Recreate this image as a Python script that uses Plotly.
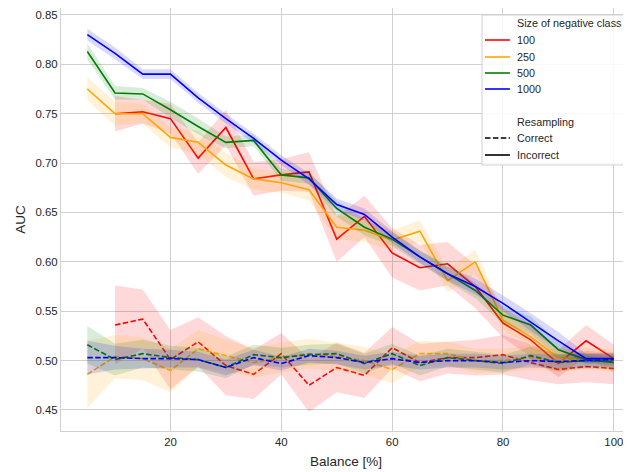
import plotly.graph_objects as go

BALANCE = [5, 10, 15, 20, 25, 30, 35, 40, 45, 50, 55, 60, 65, 70, 75, 80, 85, 90, 95, 100]
SIZES = ["100", "250", "500", "1000"]
COLORS = {"100": "#ff0000", "250": "#ffa500", "500": "#008000", "1000": "#0000ff"}
BAND_RGB = {"100": "255,0,0", "250": "255,165,0", "500": "0,128,0", "1000": "0,0,255"}

# Incorrect resampling (solid)
INC_100 = [None, 0.750, 0.752, 0.745, 0.705, 0.736, 0.684, 0.688, 0.691, 0.623, 0.646, 0.609, 0.594, 0.598, 0.575, 0.538, 0.521, 0.497, 0.520, 0.502]
INC_100_CI = [None, 0.018, 0.012, 0.015, 0.016, 0.018, 0.017, 0.016, 0.020, 0.023, 0.021, 0.025, 0.023, 0.022, 0.022, 0.015, 0.017, 0.014, 0.016, 0.014]
INC_250 = [0.775, 0.750, 0.750, 0.726, 0.721, 0.698, 0.684, 0.680, 0.673, 0.635, 0.632, 0.622, 0.631, 0.581, 0.600, 0.541, 0.524, 0.503, 0.502, 0.502]
INC_250_CI = [0.012, 0.012, 0.010, 0.010, 0.012, 0.012, 0.011, 0.010, 0.011, 0.012, 0.012, 0.010, 0.011, 0.012, 0.012, 0.010, 0.010, 0.006, 0.005, 0.004]
INC_500 = [0.813, 0.771, 0.770, 0.754, 0.737, 0.721, 0.723, 0.688, 0.685, 0.654, 0.635, 0.623, 0.605, 0.588, 0.571, 0.546, 0.536, 0.511, 0.501, 0.498]
INC_500_CI = [0.008, 0.007, 0.006, 0.008, 0.008, 0.006, 0.006, 0.006, 0.006, 0.008, 0.008, 0.007, 0.007, 0.008, 0.008, 0.009, 0.009, 0.007, 0.004, 0.003]
INC_1000 = [0.830, 0.811, 0.790, 0.790, 0.766, 0.745, 0.725, 0.703, 0.684, 0.658, 0.648, 0.625, 0.605, 0.588, 0.575, 0.558, 0.539, 0.520, 0.502, 0.502]
INC_1000_CI = [0.006, 0.006, 0.005, 0.005, 0.005, 0.005, 0.005, 0.005, 0.006, 0.006, 0.006, 0.006, 0.006, 0.007, 0.008, 0.008, 0.009, 0.009, 0.005, 0.003]

# Correct resampling (dashed)
COR_100 = [None, 0.536, 0.542, 0.501, 0.519, 0.495, 0.486, 0.507, 0.475, 0.493, 0.485, 0.513, 0.498, 0.503, 0.503, 0.506, 0.498, 0.491, 0.494, 0.492]
COR_100_CI = [None, 0.040, 0.030, 0.030, 0.025, 0.030, 0.025, 0.021, 0.027, 0.025, 0.023, 0.021, 0.019, 0.016, 0.018, 0.020, 0.018, 0.015, 0.016, 0.016]
COR_250 = [0.486, 0.504, 0.502, 0.490, 0.512, 0.505, 0.498, 0.503, 0.507, 0.504, 0.500, 0.491, 0.507, 0.507, 0.500, 0.500, 0.503, 0.500, 0.502, 0.500]
COR_250_CI = [0.034, 0.022, 0.022, 0.022, 0.019, 0.016, 0.015, 0.015, 0.015, 0.014, 0.014, 0.014, 0.013, 0.012, 0.012, 0.012, 0.012, 0.011, 0.011, 0.011]
COR_500 = [0.516, 0.501, 0.507, 0.503, 0.501, 0.493, 0.506, 0.503, 0.506, 0.507, 0.497, 0.507, 0.495, 0.503, 0.500, 0.497, 0.505, 0.498, 0.500, 0.499]
COR_500_CI = [0.019, 0.016, 0.014, 0.012, 0.012, 0.011, 0.010, 0.010, 0.010, 0.010, 0.010, 0.010, 0.010, 0.009, 0.009, 0.009, 0.009, 0.009, 0.008, 0.008]
COR_1000 = [0.503, 0.503, 0.502, 0.502, 0.501, 0.493, 0.503, 0.497, 0.505, 0.503, 0.498, 0.502, 0.498, 0.500, 0.500, 0.498, 0.500, 0.499, 0.500, 0.501]
COR_1000_CI = [0.017, 0.012, 0.010, 0.009, 0.008, 0.008, 0.008, 0.007, 0.007, 0.007, 0.007, 0.007, 0.007, 0.007, 0.007, 0.007, 0.007, 0.007, 0.007, 0.007]

SERIES = {
    "100": {"Correct": (COR_100, COR_100_CI), "Incorrect": (INC_100, INC_100_CI)},
    "250": {"Correct": (COR_250, COR_250_CI), "Incorrect": (INC_250, INC_250_CI)},
    "500": {"Correct": (COR_500, COR_500_CI), "Incorrect": (INC_500, INC_500_CI)},
    "1000": {"Correct": (COR_1000, COR_1000_CI), "Incorrect": (INC_1000, INC_1000_CI)},
}
DASH = {"Correct": "5.5px,2.4px", "Incorrect": "solid"}

Y_TICKS = [0.45, 0.50, 0.55, 0.60, 0.65, 0.70, 0.75, 0.80, 0.85]
X_TICKS = [20, 40, 60, 80, 100]

FONT = "Liberation Sans, Arial, sans-serif"
TXT = "#262626"
GRID = "#d0d0d0"

# page body has an 8px default margin; compensate so the plot sits where the reference does
OFF = 8
W, H = 631 - OFF, 472 - OFF
L, R, T, B = 61, 631, 8, 431   # plot area in window pixels

fig = go.Figure()
for size in SIZES:
    for style in ["Correct", "Incorrect"]:
        vals, ci = SERIES[size][style]
        xs = [x for x, v in zip(BALANCE, vals) if v is not None]
        ys = [v for v in vals if v is not None]
        cs = [c for c in ci if c is not None]
        upper = [v + c for v, c in zip(ys, cs)]
        lower = [v - c for v, c in zip(ys, cs)]
        fig.add_trace(go.Scatter(
            x=xs + xs[::-1], y=upper + lower[::-1], fill="toself",
            fillcolor=f"rgba({BAND_RGB[size]},0.15)", line=dict(width=0),
            mode="lines", hoverinfo="skip", showlegend=False))
        fig.add_trace(go.Scatter(
            x=xs, y=ys, mode="lines", name=f"{size} {style}",
            line=dict(color=COLORS[size], width=1.6, dash=DASH[style]),
            showlegend=False))

# ---- legend drawn in paper coordinates ----
def px(xp):
    return (xp - L) / (R - L)
def py(yp):
    return (B - yp) / (B - T)

fig.add_shape(type="rect", xref="paper", yref="paper",
              x0=px(482), x1=px(645), y0=py(165), y1=py(15),
              fillcolor="rgba(255,255,255,0.85)", line=dict(color="#d0d0d0", width=1), layer="above")

legend_rows = [
    ("Size of negative class", None, None, 23),
    ("100", COLORS["100"], "solid", 40),
    ("250", COLORS["250"], "solid", 57),
    ("500", COLORS["500"], "solid", 73),
    ("1000", COLORS["1000"], "solid", 89),
    ("Resampling", None, None, 122),
    ("Correct", "#000000", "5.5px,2.4px", 138),
    ("Incorrect", "#000000", "solid", 155),
]
for text, col, dash, yy in legend_rows:
    if col is not None:
        fig.add_shape(type="line", xref="paper", yref="paper",
                      x0=px(485), x1=px(510), y0=py(yy), y1=py(yy),
                      line=dict(color=col, width=1.6, dash=dash), layer="above")
    fig.add_annotation(xref="paper", yref="paper", x=px(516), y=py(yy),
                       text=text, showarrow=False, xanchor="left", yanchor="middle",
                       borderpad=0, font=dict(family=FONT, size=10.8, color=TXT))

fig.update_layout(
    width=W, height=H,
    margin=dict(l=L - OFF, r=631 - R, t=T - OFF, b=472 - B, pad=0, autoexpand=False),
    paper_bgcolor="white", plot_bgcolor="white",
    font=dict(family=FONT, size=11.4, color=TXT),
    showlegend=False,
)
fig.update_xaxes(
    range=[0.25, 103.1], tickvals=X_TICKS, ticktext=[str(v) for v in X_TICKS],
    showgrid=True, gridcolor=GRID, gridwidth=1, zeroline=False, automargin=False,
    showline=True, linecolor=GRID, linewidth=1.2, mirror=True, ticks="",
    tickfont=dict(family=FONT, size=11.4, color=TXT),
    title=dict(text="Balance [%]", font=dict(family=FONT, size=13.5, color=TXT), standoff=9),
)
fig.update_yaxes(
    range=[0.4287, 0.857], tickvals=Y_TICKS, ticktext=[f"{v:.2f}" for v in Y_TICKS],
    showgrid=True, gridcolor=GRID, gridwidth=1, zeroline=False, automargin=False,
    showline=True, linecolor=GRID, linewidth=1.2, mirror=True, ticks="",
    tickfont=dict(family=FONT, size=11.4, color=TXT),
    title=dict(text="AUC", font=dict(family=FONT, size=13.5, color=TXT), standoff=6),
)

fig.write_html("out.html")
